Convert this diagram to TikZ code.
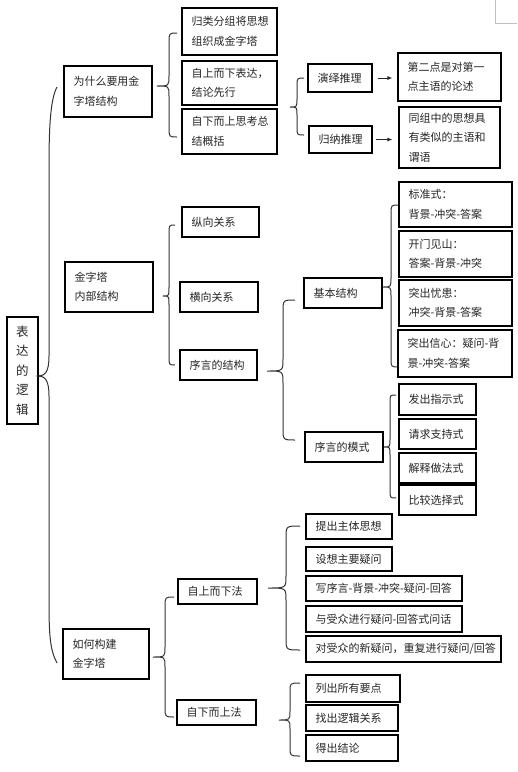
\documentclass[tikz,border=0pt]{standalone}
\usepackage{fontspec}
\setmainfont{Noto Sans CJK SC}
\usetikzlibrary{arrows.meta}
\tikzset{
  box/.style={draw=black, line width=1.1pt, inner sep=0pt, align=left,
    font=\fontsize{11}{19.5}\selectfont, text=black!85},
  bracel/.style={draw=black!80, line width=1pt},
  arr/.style={draw=black!85, line width=1pt, -{Latex[length=5pt,width=4pt]}}
}
\newcommand\bx[6]{%
  \pgfmathsetmacro\bxW{#4-#2}\pgfmathsetmacro\bxH{#5-#3}%
  \pgfmathsetmacro\bxT{#4-#2-19}%
  \pgfmathsetmacro\bxX{(#2+#4)/2}\pgfmathsetmacro\bxY{(#3+#5)/2}%
  \node[box,minimum width=\bxW pt,minimum height=\bxH pt,text width=\bxT pt] (#1) at (\bxX,\bxY) {#6};}
% tip x, vertical x, end x, top y, mid y, bottom y, radius
\newcommand\wbrace[7]{%
  \draw[bracel] (#3,#4) .. controls (#2,#4) .. (#2,#4+#7) -- (#2,#5-#7)
    .. controls (#2,#5) .. (#1,#5) .. controls (#2,#5) .. (#2,#5+#7)
    -- (#2,#6-#7) .. controls (#2,#6) .. (#3,#6);}
\begin{document}
\begin{tikzpicture}[x=1pt,y=-1pt]
\fill[white] (0,0) rectangle (518,772);
\useasboundingbox (0,0) rectangle (518,772);
\draw[black!25, line width=0.8pt] (495,0) -- (495,23) -- (517,23);

% root
\node[box, minimum width=31pt, minimum height=107pt, align=center,
  font=\fontsize{12.5}{19.5}\selectfont] (root) at (22.5,370.5) {表\\达\\的\\逻\\辑};

% big brace
\draw[bracel] (57,87) .. controls (50,100) and (49,130) .. (49,170) -- (49,356)
  .. controls (49,372) and (45,376) .. (38,376)
  .. controls (45,376) and (49,380) .. (49,396) -- (49,600)
  .. controls (49,635) and (50,650) .. (57,663);

% section 1
\bx{why}{64}{66}{152}{117}{为什么要用金\\字塔结构}
\bx{b1}{182}{8}{277}{55}{归类分组将思想\\组织成金字塔}
\bx{b2}{182}{61}{277}{105}{自上而下表达，\\结论先行}
\bx{b3}{182}{109}{277}{154}{自下而上思考总\\结概括}
\wbrace{157}{169}{177}{33}{86}{137}{10}
\wbrace{290}{297}{304}{78}{107}{135}{8}
\bx{yanyi}{308}{64}{372}{92}{演绎推理}
\bx{guina}{309}{126}{372}{153}{归纳推理}
\bx{t1}{398}{53}{501}{101}{第二点是对第一\\点主语的论述}
\bx{t2}{399}{107}{500}{168}{同组中的思想具\\有类似的主语和\\谓语}
\draw[arr, shorten <=5pt, shorten >=5pt] (yanyi.east) -- (yanyi.east -| t1.west);
\draw[arr, shorten <=3pt, shorten >=6pt] (guina.east) -- (guina.east -| t2.west);

% section 2
\bx{inner}{65}{262}{153}{312}{金字塔\\内部结构}
\wbrace{163}{169}{175}{225}{296}{365}{9}
\bx{zong}{182}{207}{259}{237}{纵向关系}
\bx{heng}{180}{282}{258}{312}{横向关系}
\bx{xujg}{180}{350}{257}{380}{序言的结构}
\wbrace{267}{283}{295}{300}{371}{440}{12}
\bx{jiben}{304}{278}{382}{308}{基本结构}
\wbrace{383}{391}{399}{205}{287}{367}{9}
\bx{s1}{399}{182}{512}{227}{标准式：\\背景-冲突-答案}
\bx{s2}{399}{231}{512}{277}{开门见山：\\答案-背景-冲突}
\bx{s3}{399}{280}{512}{326}{突出忧患：\\冲突-背景-答案}
\bx{s4}{398}{330}{512}{377}{突出信心：疑问-背\\景-冲突-答案}
\bx{moshi}{305}{432}{383}{462}{序言的模式}
\wbrace{384}{390}{396}{395}{447}{498}{8}
\bx{m1}{399}{384}{476}{415}{发出指示式}
\bx{m2}{399}{419}{476}{449}{请求支持式}
\bx{m3}{399}{453}{476}{483}{解释做法式}
\bx{m4}{399}{485}{476}{515}{比较选择式}

% section 3
\bx{how}{63}{629}{149}{679}{如何构建\\金字塔}
\wbrace{153}{165}{174}{597}{657}{717}{10}
\bx{topm}{178}{579}{257}{604}{自上而下法}
\bx{botm}{177}{700}{256}{725}{自下而上法}
\wbrace{268}{286}{300}{526}{588}{650}{12}
\bx{a1}{306}{514}{392}{539}{提出主体思想}
\bx{a2}{306}{547}{392}{571}{设想主要疑问}
\bx{a3}{306}{576}{462}{601}{写序言-背景-冲突-疑问-回答}
\bx{a4}{306}{606}{462}{632}{与受众进行疑问-回答式问话}
\bx{a5}{306}{636}{501}{662}{对受众的新疑问，重复进行疑问/回答}
\wbrace{279}{290}{300}{683}{720}{756}{9}
\bx{c1}{306}{675}{400}{702}{列出所有要点}
\bx{c2}{306}{705}{398}{731}{找出逻辑关系}
\bx{c3}{306}{735}{398}{761}{得出结论}
\end{tikzpicture}
\end{document}
